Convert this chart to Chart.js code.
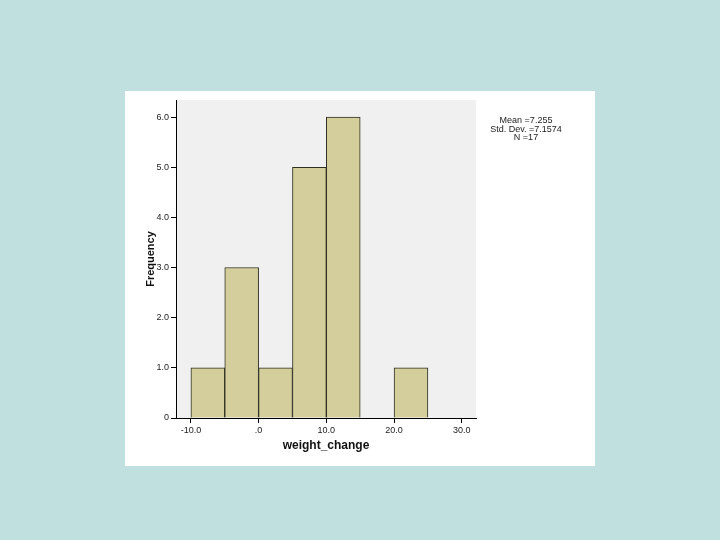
<!DOCTYPE html>
<html>
<head>
<meta charset="utf-8">
<script src="https://cdn.jsdelivr.net/npm/chart.js@4/dist/chart.umd.min.js"></script>
<style>
  html, body { margin: 0; padding: 0; background: #c0dfdf; }
  #wrap { width: 720px; height: 540px; position: relative; }
</style>
</head>
<body>
<div id="wrap"><canvas id="histChart" width="720" height="540"></canvas></div>
<script>
// histogram bins (centre of each 5-unit bin) and counts
const binCenters = [-7.5, -2.5, 2.5, 7.5, 12.5, 17.5, 22.5];
const counts = [1, 3, 1, 5, 6, 0, 1];
const xTickValues = [-10, 0, 10, 20, 30];
const xTickLabels = ['-10.0', '.0', '10.0', '20.0', '30.0'];
const yTickLabels = ['0', '1.0', '2.0', '3.0', '4.0', '5.0', '6.0'];
const statLines = ['Mean =7.255', 'Std. Dev. =7.1574', 'N =17'];

const points = binCenters.map((c, i) => ({ x: c, y: counts[i] }));

const backdrop = {
  id: 'backdrop',
  beforeDraw(chart) {
    const ctx = chart.ctx;
    const a = chart.chartArea;
    ctx.save();
    ctx.fillStyle = '#c0dfdf';
    ctx.fillRect(0, 0, chart.width, chart.height);
    ctx.fillStyle = '#ffffff';
    ctx.fillRect(125, 91, 470, 375);
    ctx.fillStyle = '#f0f0f0';
    ctx.fillRect(a.left, a.top, a.right - a.left, a.bottom - a.top);
    ctx.restore();
  },
  afterDraw(chart) {
    const ctx = chart.ctx;
    ctx.save();
    ctx.fillStyle = '#222';
    ctx.font = '9px "Liberation Sans", Arial, sans-serif';
    ctx.textAlign = 'center';
    ctx.textBaseline = 'middle';
    statLines.forEach((t, i) => ctx.fillText(t, 526, 121 + i * 8.5));
    ctx.restore();
  }
};

new Chart(document.getElementById('histChart'), {
  type: 'bar',
  data: {
    datasets: [{
      data: points,
      backgroundColor: '#d3ce9b',
      borderColor: '#2e2e22',
      borderWidth: 1,
      barPercentage: 1,
      categoryPercentage: 1
    }]
  },
  options: {
    responsive: false,
    animation: false,
    layout: { padding: { left: 144, right: 244, top: 100, bottom: 87 } },
    plugins: { legend: { display: false }, tooltip: { enabled: false } },
    scales: {
      x: {
        type: 'linear',
        offset: false,
        min: -12.2,
        max: 32.1,
        afterBuildTicks: s => { s.ticks = xTickValues.map(v => ({ value: v })); },
        afterFit: s => { s.height = 35; },
        border: { color: '#000', width: 1 },
        grid: { offset: false, drawOnChartArea: false, tickLength: 5, color: '#000' },
        ticks: {
          color: '#222',
          font: { family: 'Liberation Sans', size: 9 },
          padding: 2,
          maxRotation: 0,
          callback: (v) => xTickLabels[xTickValues.indexOf(v)]
        },
        title: {
          display: true,
          text: 'weight_change',
          color: '#111',
          font: { family: 'Liberation Sans', size: 12, weight: 'bold' },
          padding: { top: 2, bottom: 0 }
        }
      },
      y: {
        min: 0,
        max: 6.34,
        afterBuildTicks: s => { s.ticks = yTickLabels.map((_, i) => ({ value: i })); },
        afterFit: s => { s.width = 32; },
        border: { color: '#000', width: 1 },
        grid: { offset: false, drawOnChartArea: false, tickLength: 5, color: '#000' },
        ticks: {
          color: '#222',
          font: { family: 'Liberation Sans', size: 9 },
          padding: 2,
          callback: (v) => yTickLabels[v]
        },
        title: {
          display: true,
          text: 'Frequency',
          color: '#111',
          font: { family: 'Liberation Sans', size: 11, weight: 'bold' },
          padding: { top: 0, bottom: 0 }
        }
      }
    }
  },
  plugins: [backdrop]
});
</script>
</body>
</html>
